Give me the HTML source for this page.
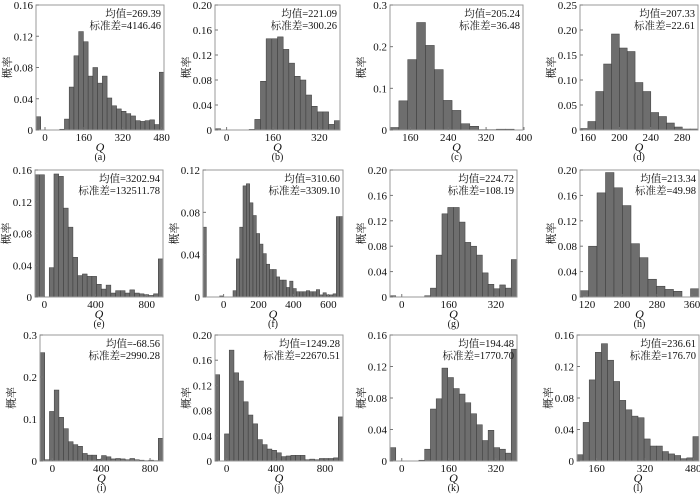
<!DOCTYPE html>
<html><head><meta charset="utf-8">
<style>
html,body{margin:0;padding:0;background:#fff;}
svg text{font-family:"Liberation Serif","Noto Serif CJK SC",serif;fill:#111;}
</style></head>
<body>
<svg id="fig" width="700" height="495" xmlns="http://www.w3.org/2000/svg"></svg>
<script>
const valuesA=[0.017,0,0,0,0,0.001,0.014,0.055,0.095,0.126,0.113,0.069,0.080,0.060,0.069,0.041,0.031,0.027,0.024,0.021,0.018,0.012,0.011,0.012,0.013,0.007,0.074];
const valuesB=[0.002,0,0,0,0,0,0.001,0.017,0.078,0.146,0.146,0.149,0.129,0.107,0.086,0.080,0.056,0.038,0.029,0.029,0.009,0.015];
const valuesC=[0.006,0.070,0.169,0.258,0.203,0.145,0.071,0.047,0.015,0.009,0.001,0.001,0.002,0.002,0];
const valuesD=[0.003,0.017,0.077,0.132,0.192,0.164,0.157,0.095,0.077,0.035,0.027,0.014,0.006,0.002,0.002];
const valuesE=[0.154,0.154,0,0.037,0.155,0.152,0.112,0.088,0.050,0.027,0.029,0.026,0.026,0.016,0.010,0.015,0.005,0.008,0.008,0.005,0.009,0.005,0.004,0.003,0.002,0.004,0.048];
const valuesF=[0.066,0,0,0,0,0.001,0,0,0,0.006,0.036,0.066,0.105,0.107,0.089,0.077,0.060,0.050,0.041,0.031,0.026,0.026,0.019,0.016,0.016,0.009,0.015,0.008,0.005,0.005,0.005,0.006,0.005,0.005,0.007,0.002,0.004,0.002,0.002,0.003,0.076,0.076];
const valuesG=[0.002,0,0,0,0,0,0.002,0.014,0.066,0.131,0.141,0.141,0.118,0.086,0.080,0.066,0.038,0.020,0.013,0.019,0.014,0.059];
const valuesH=[0.010,0.080,0.164,0.196,0.172,0.144,0.084,0.062,0.028,0.017,0.012,0.009,0,0.013];
const valuesI=[0.258,0.003,0.118,0.169,0.104,0.077,0.046,0.039,0.035,0.018,0.014,0.014,0.004,0.013,0.010,0.005,0.006,0.005,0.003,0.006,0.003,0.002,0.001,0.002,0.001,0.054];
const valuesJ=[0.137,0,0.043,0.176,0.140,0.127,0.094,0.073,0.059,0.034,0.026,0.019,0.017,0.013,0.007,0.008,0.009,0.009,0.009,0.002,0.003,0.002,0.004,0.004,0.004,0.005,0.070];
const valuesK=[0.017,0,0,0,0,0.001,0.015,0.066,0.079,0.118,0.106,0.092,0.085,0.074,0.060,0.046,0.026,0.039,0.017,0.015,0.010,0.142];
const valuesL=[0.008,0.049,0.103,0.138,0.149,0.128,0.101,0.077,0.065,0.057,0.055,0.028,0.019,0.019,0.012,0.009,0.007,0.003,0.004,0.031];
const meanLabels=["269.39","221.09","205.24","207.33","3202.94","310.60","224.72","213.34","-68.56","1249.28","194.48","236.61"];
const stdLabels=["4146.46","300.26","36.48","22.61","132511.78","3309.10","108.19","49.98","2990.28","22670.51","1770.70","176.70"];
const panelLetters=["a","b","c","d","e","f","g","h","i","j","k","l"];
const yTicks1=[0,0.04,0.08,0.12,0.16];
const yTicks2=[0,0.04,0.08,0.12,0.16,0.20];
const yTicks3=[0,0.1,0.2,0.3];
const yTicks4=[0,0.05,0.10,0.15,0.20,0.25];
const yTicks5=[0,0.04,0.08,0.12];
const xTicksA=[0,160,320,480], xTicksB=[0,160,320], xTicksC=[160,240,320,400], xTicksD=[160,200,240,280];
const xTicksE=[0,400,800], xTicksF=[0,200,400,600], xTicksH=[120,200,280,360], xTicksL=[160,320,480];

const panels=[
 {v:valuesA,box:[36,5,164,130],xd:[-37,490],yt:yTicks1,yd:2,xt:xTicksA},
 {v:valuesB,box:[215,5,340,130],xd:[-40,391],yt:yTicks2,yd:2,xt:xTicksB},
 {v:valuesC,box:[390,5,523,130],xd:[117,398],yt:yTicks3,yd:1,xt:xTicksC},
 {v:valuesD,box:[580,5,698,130],xd:[150,300],yt:yTicks4,yd:2,xt:xTicksD},
 {v:valuesE,box:[35,170,163,297],xd:[-73,927],yt:yTicks1,yd:2,xt:xTicksE},
 {v:valuesF,box:[203,170,343,297],xd:[-118,684],yt:yTicks5,yd:2,xt:xTicksF},
 {v:valuesG,box:[390,170,517,297],xd:[-40,392],yt:yTicks2,yd:2,xt:xTicksB},
 {v:valuesH,box:[580,170,699,297],xd:[104,376],yt:yTicks2,yd:2,xt:xTicksH},
 {v:valuesI,box:[40,335,163,461],xd:[-101,906],yt:yTicks3,yd:1,xt:xTicksE},
 {v:valuesJ,box:[215,335,343,461],xd:[-95,946],yt:yTicks2,yd:2,xt:xTicksE},
 {v:valuesK,box:[390,335,517,461],xd:[-40,392],yt:yTicks1,yd:2,xt:xTicksB},
 {v:valuesL,box:[577,335,699,461],xd:[95,499],yt:yTicks1,yd:2,xt:xTicksL}
];
const NS="http://www.w3.org/2000/svg";
const svg=document.getElementById('fig');
function mk(tag,attrs,parent){const e=document.createElementNS(NS,tag);for(const k in attrs)e.setAttribute(k,attrs[k]);(parent||svg).appendChild(e);return e;}
panels.forEach((p,pi)=>{
  const [x0,y0,x1,y1]=p.box;
  const g=mk('g',{});
  
  
  const ymax=p.yt[p.yt.length-1];
  const xs=v=>x0+(v-p.xd[0])/(p.xd[1]-p.xd[0])*(x1-x0);
  const ys=v=>y1-v/ymax*(y1-y0);
  const n=p.v.length, bw=(p.xd[1]-p.xd[0])/n;
  p.v.forEach((val,i)=>{
    if(val<=0)return;
    const a=xs(p.xd[0]+i*bw), b=xs(p.xd[0]+(i+1)*bw);
    const r=mk('rect',{x:a,y:ys(val),width:b-a,height:y1-ys(val),fill:'#6e6e6e',stroke:'#3a3a3a','stroke-width':0.5},g);
    
    
  });
  const fr=mk('rect',{x:x0,y:y0,width:x1-x0,height:y1-y0,fill:'none',stroke:'#999','stroke-width':1},g);
  
  
  p.yt.forEach(t=>{
    const y=ys(t);
    mk('line',{x1:x0,x2:x0+3,y1:y,y2:y,stroke:'#777'},g);
    const tt=mk('text',{x:x0-3,y:y+4,'font-size':11,'text-anchor':'end'},g);
    tt.textContent=t===0?'0':t.toFixed(p.yd);
    
    
  });
  p.xt.forEach(t=>{
    const x=xs(t);
    mk('line',{x1:x,x2:x,y1:y1,y2:y1-3,stroke:'#777'},g);
    const tt=mk('text',{x:x,y:y1+11,'font-size':11,'text-anchor':'middle'},g);
    tt.textContent=String(t);
    
    
  });
  const yl=mk('text',{x:0,y:0,'font-size':11,'text-anchor':'middle',transform:`translate(${x0-25},${(y0+y1)/2}) rotate(-90)`},g);
  yl.textContent='概率';
  
  
  const cx=(x0+x1)/2;
  const xl=mk('text',{x:cx,y:y1+21,'font-size':12,'font-style':'italic','text-anchor':'middle'},g);
  xl.textContent='Q';
  
  
  const cap=mk('text',{x:cx,y:y1+30,'font-size':10,'text-anchor':'middle'},g);
  cap.textContent='('+panelLetters[pi]+')';
  
  
  const m=mk('text',{x:x1-3,y:y0+12,'font-size':10.5,'text-anchor':'end'},g);
  m.textContent='均值='+meanLabels[pi];
  
  
  const s=mk('text',{x:x1-3,y:y0+24,'font-size':10.5,'text-anchor':'end'},g);
  s.textContent='标准差='+stdLabels[pi];
  
  
});
</script>
</body></html>
